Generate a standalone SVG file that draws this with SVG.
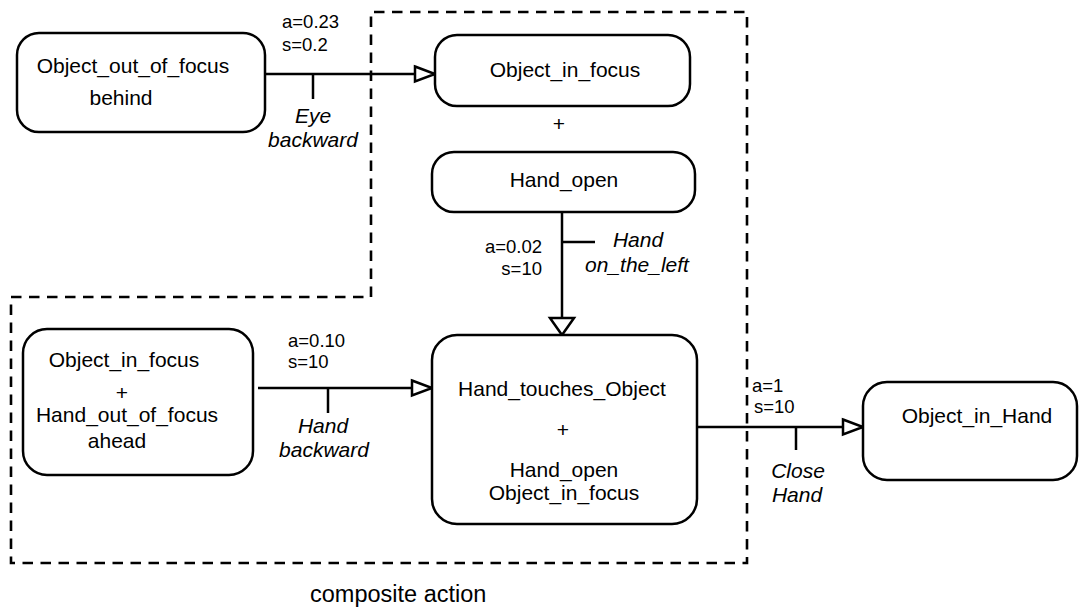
<svg xmlns="http://www.w3.org/2000/svg" width="1079" height="609" viewBox="0 0 1079 609">
<style>
.box{fill:#fff;stroke:#000;stroke-width:2.5}
.t{font-family:"Liberation Sans",Arial,sans-serif;font-size:21px;fill:#000;text-anchor:middle}
.lab{font-family:"Liberation Sans",Arial,sans-serif;font-size:18.5px;fill:#000}
.it{font-family:"Liberation Sans",Arial,sans-serif;font-size:21px;font-style:italic;fill:#000;text-anchor:middle}
.line{fill:none;stroke:#000;stroke-width:2.5}
.dash{fill:none;stroke:#000;stroke-width:2.6;stroke-dasharray:10.5 7.5}
</style>
<defs>
<marker id="arrowH" markerUnits="userSpaceOnUse" markerWidth="22" markerHeight="18" refX="20" refY="7.5" orient="auto" overflow="visible">
<path d="M0,0 L20,7.5 L0,15 Z" fill="#fff" stroke="#000" stroke-width="2.5"/>
</marker>
<marker id="arrowV" markerUnits="userSpaceOnUse" markerWidth="20" markerHeight="26" refX="17" refY="12" orient="auto" overflow="visible">
<path d="M0,0 L17,12 L0,24 Z" fill="#fff" stroke="#000" stroke-width="2.5"/>
</marker>
</defs>
<rect width="1079" height="609" fill="#fff"/>

<g id="composite">
<path class="dash" d="M371,297 L371,12 L747,12 L747,563 L11,563 L11,297 Z"/>
<text class="t" x="310" y="602" style="text-anchor:start;font-size:23.5px">composite action</text>
</g>

<g id="connectors">
<line class="line" x1="265" y1="74" x2="435" y2="74" marker-end="url(#arrowH)"/>
<line class="line" x1="313" y1="74" x2="313" y2="99"/>
<text class="lab" x="282" y="28">a=0.23</text>
<text class="lab" x="282" y="51">s=0.2</text>
<text class="it" x="313" y="123">Eye</text>
<text class="it" x="313" y="147">backward</text>

<line class="line" x1="562" y1="212" x2="562" y2="335" marker-end="url(#arrowV)"/>
<line class="line" x1="562" y1="242" x2="595" y2="242"/>
<text class="lab" x="542" y="253" text-anchor="end">a=0.02</text>
<text class="lab" x="542" y="275" text-anchor="end">s=10</text>
<text class="it" x="638" y="247">Hand</text>
<text class="it" x="637" y="272">on_the_left</text>

<line class="line" x1="258" y1="388" x2="432" y2="388" marker-end="url(#arrowH)"/>
<line class="line" x1="328" y1="388" x2="328" y2="413"/>
<text class="lab" x="288" y="347">a=0.10</text>
<text class="lab" x="288" y="368">s=10</text>
<text class="it" x="323" y="433">Hand</text>
<text class="it" x="324" y="457">backward</text>

<line class="line" x1="697" y1="427" x2="863" y2="427" marker-end="url(#arrowH)"/>
<line class="line" x1="796" y1="427" x2="796" y2="450"/>
<text class="lab" x="752" y="392">a=1</text>
<text class="lab" x="754" y="413">s=10</text>
<text class="it" x="798" y="478">Close</text>
<text class="it" x="797" y="502">Hand</text>
</g>

<g id="node-object-out-of-focus">
<rect class="box" x="17" y="33" width="248" height="99" rx="22"/>
<text class="t" x="133" y="73">Object_out_of_focus</text>
<text class="t" x="121" y="105">behind</text>
</g>

<g id="node-object-in-focus">
<rect class="box" x="435" y="35" width="255" height="71" rx="22"/>
<text class="t" x="565" y="77">Object_in_focus</text>
</g>

<text class="t" x="559" y="131">+</text>

<g id="node-hand-open">
<rect class="box" x="432" y="152" width="263" height="60" rx="22"/>
<text class="t" x="564" y="187">Hand_open</text>
</g>

<g id="node-object-hand-out-of-focus">
<rect class="box" x="23" y="329" width="230" height="146" rx="24"/>
<text class="t" x="124" y="367">Object_in_focus</text>
<text class="t" x="122" y="400">+</text>
<text class="t" x="127" y="422">Hand_out_of_focus</text>
<text class="t" x="117" y="448">ahead</text>
</g>

<g id="node-hand-touches-object">
<rect class="box" x="432" y="335" width="265" height="189" rx="25"/>
<text class="t" x="562" y="396">Hand_touches_Object</text>
<text class="t" x="563" y="437">+</text>
<text class="t" x="564" y="477">Hand_open</text>
<text class="t" x="564" y="500">Object_in_focus</text>
</g>

<g id="node-object-in-hand">
<rect class="box" x="863" y="382" width="214" height="98" rx="24"/>
<text class="t" x="977" y="423">Object_in_Hand</text>
</g>
</svg>
